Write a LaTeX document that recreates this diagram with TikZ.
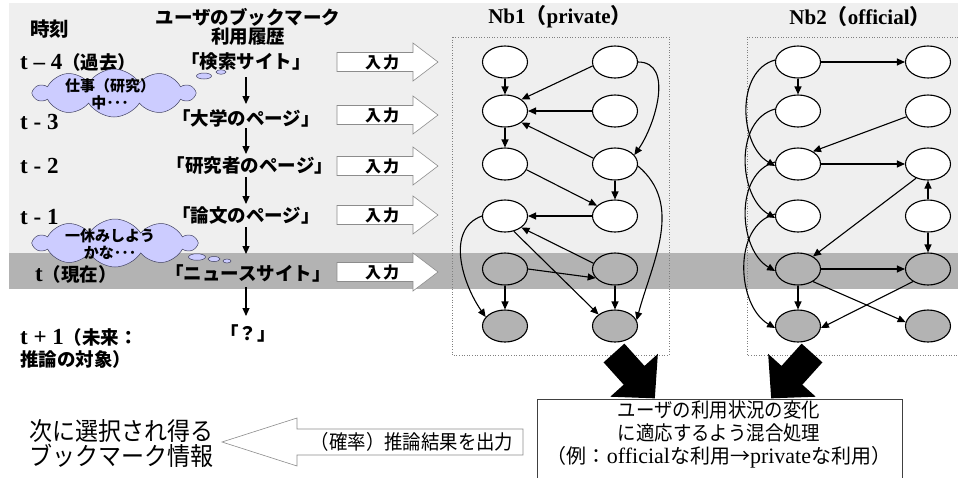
\documentclass[tikz,border=0pt]{standalone}
\usepackage{fontspec}
\setmainfont{Liberation Serif}
\newfontfamily\jp{Noto Sans CJK JP}
\newfontfamily\jpn{Noto Sans CJK JP}[FakeStretch=0.92]
\usetikzlibrary{shapes.symbols,shapes.geometric,arrows.meta}
\definecolor{patgray}{HTML}{EFEFEF}
\definecolor{bandgray}{HTML}{B3B3B3}
\definecolor{cloudfill}{HTML}{CCCCFF}
\definecolor{cloudline}{HTML}{404060}
\definecolor{outl}{HTML}{8C8C8C}
\begin{document}
\begin{tikzpicture}[x=1pt,y=-1pt,
  nd/.style={ellipse,draw,line width=1.1pt,minimum width=45pt,minimum height=32pt,inner sep=0pt},
  wn/.style={nd,fill=white},
  gn/.style={nd,fill=bandgray},
  ed/.style={line width=1.1pt,-{Triangle[length=8pt,width=7pt]}},
  hist/.style={font=\jp\bfseries\fontsize{18.5}{20}\selectfont,inner sep=0pt,anchor=center},
  tlab/.style={font=\bfseries\fontsize{23}{25}\selectfont,inner sep=0pt,anchor=west},
  inbox/.style={draw=outl,fill=white,line width=0.6pt},
  cloudtxt/.style={font=\jp\bfseries\fontsize{15}{16.5}\selectfont,align=center,inner sep=0pt},
  bubble/.style={ellipse,draw=cloudline,fill=cloudfill,line width=0.5pt,inner sep=0pt},
  cloudshape/.style={cloud,cloud puffs=10,cloud puff arc=115,aspect=3.4,draw=cloudline,fill=cloudfill,line width=0.5pt,inner sep=0pt},
  nbbox/.style={draw=gray,dotted,line width=0.6pt},
  blk/.style={fill=black}
]
\newcommand{\tjp}[1]{{\jp\bfseries\fontsize{18.5}{20}\selectfont #1}}
\useasboundingbox (0,0) rectangle (958,477);
\fill[white] (0,0) rectangle (958,477);
\fill[patgray] (9,3) rectangle (958,253);
\fill[bandgray] (9,253) rectangle (958,289);

% headings
\node[font=\jp\bfseries\fontsize{19.5}{21}\selectfont,inner sep=0pt] (jikoku) at (50,29) {時刻};
\node[font=\jp\bfseries\fontsize{18.5}{20}\selectfont,inner sep=0pt,align=center] (hdr) at (248,27) {ユーザのブックマーク\\[-1pt]利用履歴};
\node[font=\bfseries\fontsize{21}{23}\selectfont,inner sep=0pt] (t1) at (560,17) {Nb1{\jp（}private{\jp）}};
\node[font=\bfseries\fontsize{21}{23}\selectfont,inner sep=0pt] (t2) at (860,17) {Nb2{\jp（}official{\jp）}};

% time labels
\node[tlab] (tm4) at (20,62) {t – 4\tjp{（過去）}};
\node[tlab] (tm3) at (20,122) {t - 3};
\node[tlab] (tm2) at (20,166) {t - 2};
\node[tlab] (tm1) at (20,217) {t - 1};
\node[tlab] (t0) at (35,274) {t\tjp{（現在）}};
\node[tlab,align=left] (tp1) at (20,348) {t + 1\tjp{（未来：}\\[-3pt]\tjp{推論の対象）}};

% clouds
\node[cloudshape,minimum width=160pt,minimum height=48pt] (cl1) at (114,93) {};
\node[cloudtxt] (cl1t) at (110,94) {仕事（研究）\\中･･･};
\node[bubble,minimum width=15pt,minimum height=6pt] (bb1) at (204,76) {};
\node[bubble,minimum width=10pt,minimum height=4.5pt] (bb2) at (221,72) {};
\node[cloudshape,minimum width=162pt,minimum height=48pt] (cl2) at (115,243) {};
\node[cloudtxt] (cl2t) at (110,244) {一休みしよう\\かな･･･};
\node[bubble,minimum width=17pt,minimum height=6.5pt] (bb3) at (197,257) {};
\node[bubble,minimum width=12pt,minimum height=5pt] (bb4) at (214,259) {};
\node[bubble,minimum width=8pt,minimum height=4pt] (bb5) at (227,261) {};

% history
\node[hist] (h1) at (246,62) {「検索サイト」};
\node[hist] (h2) at (246,118) {「大学のページ」};
\node[hist] (h3) at (250,166) {「研究者のページ」};
\node[hist] (h4) at (246,216) {「論文のページ」};
\node[hist] (h5) at (248,273) {「ニュースサイト」};
\node[hist] (h6) at (248,333) {「？」};
\coordinate (a1s) at (246,77); \coordinate (a1e) at (246,104);
\coordinate (a2s) at (246,128); \coordinate (a2e) at (246,154);
\coordinate (a3s) at (246,177); \coordinate (a3e) at (246,204);
\coordinate (a4s) at (246,227); \coordinate (a4e) at (246,254);
\coordinate (a5s) at (246,287); \coordinate (a5e) at (246,316);
\draw[ed] (a1s) -- (a1e);
\draw[ed] (a2s) -- (a2e);
\draw[ed] (a3s) -- (a3e);
\draw[ed] (a4s) -- (a4e);
\draw[ed] (a5s) -- (a5e);

% input arrows
\foreach \y/\n in {62/1,115/2,166/3,215/4,272/5}{
  \draw[inbox] (337,\y-9.5) -- (413,\y-9.5) -- (413,\y-19) -- (438,\y) -- (413,\y+19) -- (413,\y+9.5) -- (337,\y+9.5) -- cycle;
  \node[font=\jp\bfseries\fontsize{16}{18}\selectfont,inner sep=0pt] (in\n) at (382,\y) {入\hspace{2pt}力};
}

% Nb boxes
\draw[nbbox] (452,37) rectangle (669,355);
\draw[nbbox] (958,37) -- (747,37) -- (747,355) -- (958,355);

% nodes
\foreach \i/\y in {1/62,2/111,3/164,4/216}{
  \node[wn] (a\i) at (505,\y) {};
  \node[wn] (b\i) at (615,\y) {};
  \node[wn] (c\i) at (798,\y) {};
  \node[wn] (d\i) at (928,\y) {};
}
\foreach \i/\y in {5/269,6/326}{
  \node[gn] (a\i) at (505,\y) {};
  \node[gn] (b\i) at (615,\y) {};
  \node[gn] (c\i) at (798,\y) {};
  \node[gn] (d\i) at (928,\y) {};
}

% Nb1 edges
\draw[ed] (a1) -- (a2);
\draw[ed] (b1.190) -- (a2.35);
\draw[ed] (b1.east) to[out=0,in=55] (b3.25);
\draw[ed] (b2) -- (a2);
\draw[ed] (a2) -- (a3);
\draw[ed] (b3.165) -- (a2.-35);
\draw[ed] (a3.-15) -- (b4.150);
\draw[ed] (b3) -- (b4);
\draw[ed] (b4) -- (a4);
\draw[ed] (a4.west) to[out=200,in=125] (a6.155);
\draw[ed] (a4.-60) -- (b6.145);
\draw[ed] (b5.165) -- (a4.-35);
\draw[ed] (a5.east) -- (b5.205);
\draw[ed] (a5) -- (a6);
\draw[ed] (b5) -- (b6);
\draw[ed] (b3.-5) to[out=-40,in=75] (b6.15);

% Nb2 edges
\draw[ed] (c1) -- (d1);
\draw[ed] (c1) -- (c2);
\draw[ed] (c1.175) to[out=195,in=150] (c3.185);
\draw[ed] (c2.175) to[out=195,in=150] (c4.185);
\draw[ed] (c3.175) to[out=195,in=150] (c5.185);
\draw[ed] (c4.175) to[out=195,in=150] (c6.185);
\draw[ed] (d2.195) -- (c3.40);
\draw[ed] (c3) -- (d3);
\draw[ed] (d4) -- (d3);
\draw[ed] (d4) -- (d5);
\draw[ed] (d3.230) -- (c5.40);
\draw[ed] (c5) -- (d5);
\draw[ed] (c5) -- (c6);
\draw[ed] (c5.-40) -- (d6.170);
\draw[ed] (d5.-140) -- (c6.-5);

% black block arrows
\coordinate (k1) at (614,353);
\coordinate (k2) at (812,353);
\fill[blk,shift={(k1)},rotate=-48] (0,-14) -- (30,-14) -- (30,-32) -- (61,0) -- (30,32) -- (30,14) -- (0,14) -- cycle;
\fill[blk,shift={(k2)},rotate=-132] (0,-14) -- (30,-14) -- (30,-32) -- (61,0) -- (30,32) -- (30,14) -- (0,14) -- cycle;

% bottom box
\draw[draw=black!75,fill=white,line width=0.8pt] (537,399) rectangle (902,478);
\node[font=\jpn\fontsize{20}{23}\selectfont,align=center,inner sep=0pt] (mix) at (719,434) {ユーザの利用状況の変化\\に適応するよう混合処理\\{\jp（例：{\rmfamily\fontsize{22}{23}\selectfont official}な利用→{\rmfamily\fontsize{22}{23}\selectfont private}な利用）}};

% output arrow
\draw[inbox] (222,442) -- (297,418) -- (297,429) -- (523,429) -- (523,455) -- (297,455) -- (297,466) -- cycle;
\node[font=\jpn\fontsize{20}{22}\selectfont,inner sep=0pt] (outt) at (412,442) {（確率）推論結果を出力};
\node[font=\jpn\fontsize{25}{25}\selectfont,align=center,inner sep=0pt] (res) at (121,444) {次に選択され得る\\ブックマーク情報};
\end{tikzpicture}
\end{document}
